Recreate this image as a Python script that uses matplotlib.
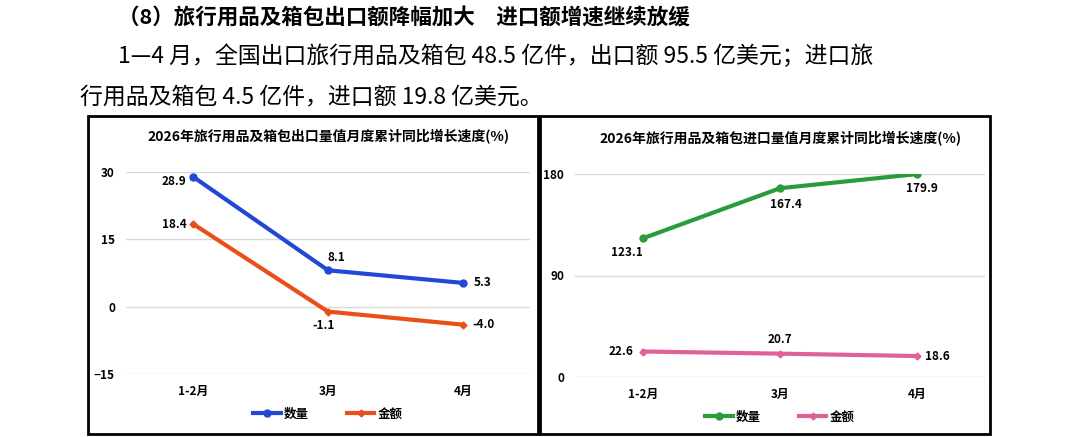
import matplotlib.pyplot as plt
from matplotlib.patches import Rectangle

plt.rcParams['font.family'] = ['Noto Sans CJK SC', 'DejaVu Sans']

months = ['1-2月', '3月', '4月']
export_qty = [28.9, 8.1, 5.3]
export_val = [18.4, -1.1, -4.0]
import_qty = [123.1, 167.4, 179.9]
import_val = [22.6, 20.7, 18.6]

W, H = 1083, 437
fig = plt.figure(figsize=(W / 100, H / 100), dpi=100)


def px(x0, y0, x1, y1):
    return [x0 / W, 1 - y1 / H, (x1 - x0) / W, (y1 - y0) / H]


fig.text(118 / W, 1 - 18 / H, '（8）旅行用品及箱包出口额降幅加大　进口额增速继续放缓',
         fontsize=15.5, fontweight='bold', va='center')
fig.text(118 / W, 1 - 56 / H, '1—4 月，全国出口旅行用品及箱包 48.5 亿件，出口额 95.5 亿美元；进口旅',
         fontsize=16.5, va='center')
fig.text(80 / W, 1 - 97 / H, '行用品及箱包 4.5 亿件，进口额 19.8 亿美元。',
         fontsize=16.5, va='center')

for x0, x1 in [(88, 538), (540, 990)]:
    fig.patches.append(Rectangle((x0 / W, 1 - 434 / H), (x1 - x0) / W, 318 / H,
                                 transform=fig.transFigure, fill=False, ec='black', lw=2))


def panel(rect, title, s1, s2, c1, c2, yticks, off):
    ax = fig.add_axes(px(*rect))
    x = range(len(months))
    ax.plot(x, s1, color=c1, lw=3, marker='o', ms=5, label='数量')
    ax.plot(x, s2, color=c2, lw=3, marker='D', ms=3.5, label='金额')
    ax.set_xlim(-0.5, 2.5)
    ax.set_ylim(yticks[0], yticks[-1])
    ax.set_yticks(yticks)
    ax.set_xticks(list(x), months)
    ax.grid(axis='y', color='#d9d9d9', lw=1)
    ax.set_axisbelow(True)
    for s in ax.spines.values():
        s.set_visible(False)
    ax.tick_params(length=0, labelsize=8.5, pad=8)
    for lab in ax.get_xticklabels() + ax.get_yticklabels():
        lab.set_fontweight('bold')
    ax.set_title(title, fontsize=10, fontweight='bold', pad=22)
    for series, offs in [(s1, off[0]), (s2, off[1])]:
        for (i, v), (dx, dy) in zip(enumerate(series), offs):
            ax.annotate(f'{v:.1f}', (i, v), xytext=(dx, dy), textcoords='offset points',
                        ha='center', va='center', fontsize=8.5, fontweight='bold')
    ax.legend(loc='upper center', bbox_to_anchor=(0.5, -0.11), ncol=2, frameon=False,
              handlelength=2.2, columnspacing=3, handletextpad=0.3,
              prop={'weight': 'bold', 'size': 9})
    return ax


panel((126, 172, 530, 374), '2026年旅行用品及箱包出口量值月度累计同比增长速度(%)',
      export_qty, export_val, '#2249d6', '#ea4f1a', [-15, 0, 15, 30],
      [[(-14, -3), (6, 9), (14, 0)], [(-14, 0), (-3, -10), (15, 0)]])
panel((575, 174, 985, 377), '2026年旅行用品及箱包进口量值月度累计同比增长速度(%)',
      import_qty, import_val, '#2a9b3a', '#e0609a', [0, 90, 180],
      [[(-12, -10), (4, -12), (4, -10)], [(-16, 0), (0, 10), (15, 0)]])

fig.savefig('out.png', dpi=100)
